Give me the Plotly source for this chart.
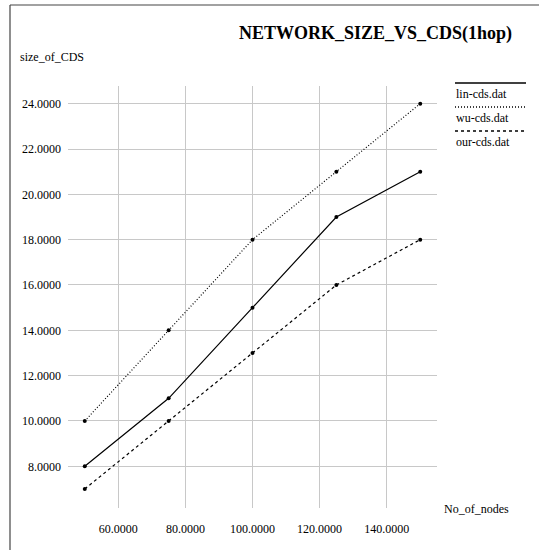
import plotly.graph_objects as go

W, H = 539, 550

nodes = [50, 75, 100, 125, 150]
lin_cds = [8, 11, 15, 19, 21]
wu_cds = [10, 14, 18, 21, 24]
our_cds = [7, 10, 13, 16, 18]

series_names = ["lin-cds.dat", "wu-cds.dat", "our-cds.dat"]
series_values = [lin_cds, wu_cds, our_cds]
series_dash = ["solid", "1px,2px", "3px,3px"]

x_ticks = [60, 80, 100, 120, 140]
y_ticks = [8, 10, 12, 14, 16, 18, 20, 22, 24]

FONT = "Liberation Serif, Times New Roman, serif"

fig = go.Figure()
for name, vals, dash in zip(series_names, series_values, series_dash):
    fig.add_trace(go.Scatter(
        x=nodes, y=vals, name=name, mode="lines+markers",
        line=dict(color="black", width=1.2, dash=dash),
        marker=dict(color="black", size=4),
        showlegend=False,
    ))

def px(x):
    return x / W

def py(y):
    return 1 - y / H

shapes = [
    # outer frame (left and top)
    dict(type="line", xref="paper", yref="paper", x0=px(10), x1=px(10), y0=py(5), y1=py(552),
         line=dict(color="#444444", width=1.2)),
    dict(type="line", xref="paper", yref="paper", x0=px(10), x1=px(541), y0=py(5), y1=py(5),
         line=dict(color="#444444", width=1.2)),
]
annotations = [
    dict(text="<b>NETWORK_SIZE_VS_CDS(1hop)</b>", xref="paper", yref="paper",
         x=px(375), y=py(33), xanchor="center", yanchor="middle", showarrow=False,
         font=dict(family=FONT, size=18, color="black")),
    dict(text="size_of_CDS", xref="paper", yref="paper",
         x=px(18), y=py(57), xanchor="left", yanchor="middle", showarrow=False,
         font=dict(family=FONT, size=12, color="black")),
    dict(text="No_of_nodes", xref="paper", yref="paper",
         x=px(511), y=py(509), xanchor="right", yanchor="middle", showarrow=False,
         font=dict(family=FONT, size=12, color="black")),
]

# legend (line above label, xgraph style)
leg_line_y = [83, 107, 131]
for name, dash, ly in zip(series_names, series_dash, leg_line_y):
    shapes.append(dict(type="line", xref="paper", yref="paper", x0=px(455), x1=px(526),
                       y0=py(ly), y1=py(ly), line=dict(color="black", width=1.5, dash=dash)))
    annotations.append(dict(text=name, xref="paper", yref="paper", x=px(454), y=py(ly + 11),
                            xanchor="left", yanchor="middle", showarrow=False,
                            font=dict(family=FONT, size=12, color="black")))

fig.update_layout(
    width=W, height=H,
    margin=dict(l=0, r=0, t=0, b=0),
    paper_bgcolor="white", plot_bgcolor="white",
    font=dict(family=FONT, size=12, color="black"),
    shapes=shapes, annotations=annotations,
    xaxis=dict(domain=[px(68), px(437)], range=[45, 155], tickvals=x_ticks,
               tickformat=".4f", showgrid=True, gridcolor="#c8c8c8", gridwidth=1,
               zeroline=False, showline=False, ticks="", ticklabelstandoff=12,
               tickfont=dict(family=FONT, size=12)),
    yaxis=dict(domain=[py(508), py(86)], range=[6.16, 24.78], tickvals=y_ticks,
               tickformat=".4f", showgrid=True, gridcolor="#c8c8c8", gridwidth=1,
               zeroline=False, showline=False, ticks="", ticklabelstandoff=6,
               tickfont=dict(family=FONT, size=12)),
)

fig.write_html("out.html", config={"displayModeBar": False},
               post_script="document.body.style.margin='0';document.body.style.overflow='hidden';")
